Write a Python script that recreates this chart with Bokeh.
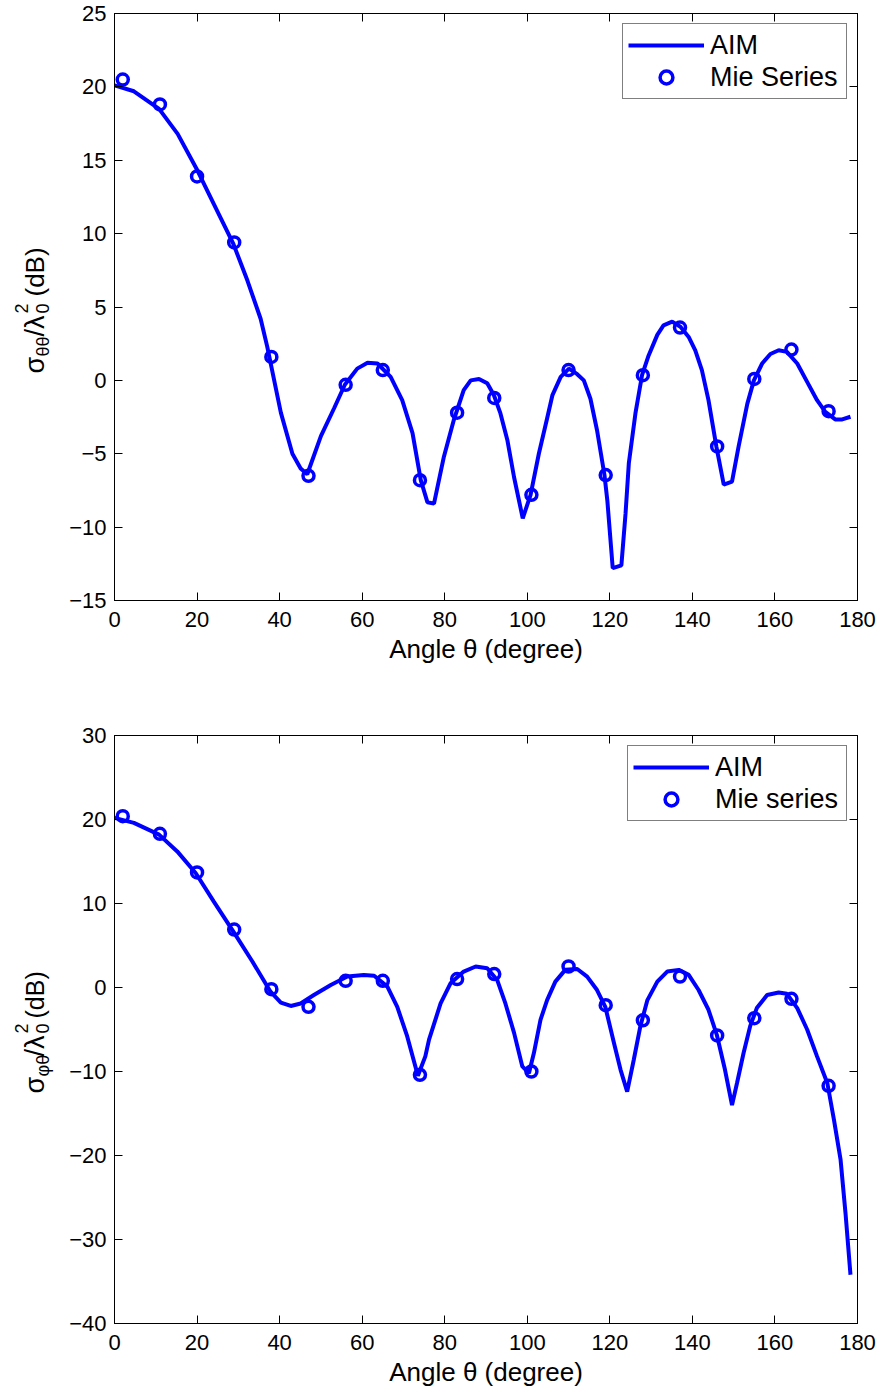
from math import pi
from bokeh.plotting import figure
from bokeh.layouts import column, row
from bokeh.models import (Range1d, FixedTicker, LinearAxis, CustomJSTickFormatter,
                          Legend, LegendItem)
from bokeh.core.properties import value
from bokeh.embed import file_html
from bokeh.resources import INLINE

# ---------------- data ----------------
mie_angle = [2, 11, 20, 29, 38, 47, 56, 65, 74, 83, 92, 101, 110, 119, 128, 137, 146, 155, 164, 173]

# top panel: sigma_theta_theta
aim1_angle = [0, 4.7, 10.8, 15.3, 20.1, 24.1, 28.8, 32.2, 35.4, 37, 40.3, 43.1, 45.1, 46.7,
              50, 53.2, 55.8, 58.8, 61.3, 63.7, 66.9, 69.7, 72.2, 74.2, 75.8, 77.4, 79.8,
              82.2, 84.6, 86.3, 88.3, 90.3, 91.9, 93.5, 95.2, 96.8, 98.9, 100.8, 102.8,
              104.8, 106.1, 108.1, 110.1, 112.1, 113.7, 115.3, 116.9, 118.7, 119.4, 120.7,
              122.8, 123.8, 124.6, 126.2, 127.8, 129.4, 131.5, 133, 135.1, 137.1, 139.1,
              140.7, 142.3, 143.9, 145.8, 147.6, 149.6, 151.2, 153.3, 154.9, 156.9, 158.9,
              160.9, 162.9, 165.4, 167.8, 170.2, 172.2, 174.6, 176.3, 178.3]
aim1_db = [20.1, 19.7, 18.5, 16.8, 14.3, 12.0, 9.3, 6.8, 4.2, 2.3, -2.2, -5.0, -6.0, -6.4,
           -3.8, -1.9, -0.3, 0.8, 1.2, 1.15, 0.24, -1.35, -3.6, -6.8, -8.3, -8.4, -5.2,
           -2.7, -0.67, 0.0, 0.1, -0.2, -1.0, -2.25, -4.1, -6.6, -9.4, -7.8, -5.0,
           -2.6, -1.0, 0.24, 0.8, 0.42, 0.0, -1.25, -3.4, -6.45, -8.2, -12.8,
           -12.6, -9.1, -5.65, -2.25, 0.35, 1.7, 3.1, 3.75, 4.0, 3.65, 2.96,
           2.05, 0.7, -1.35, -4.5, -7.1, -6.9, -4.5, -1.6, 0.0, 1.15, 1.8,
           2.05, 1.94, 1.15, -0.1, -1.35, -2.15, -2.66, -2.66, -2.48]
mie1_db = [20.5, 18.8, 13.9, 9.4, 1.6, -6.5, -0.3, 0.7, -6.8, -2.2, -1.2, -7.8, 0.7, -6.45,
           0.35, 3.6, -4.5, 0.1, 2.1, -2.1]

# bottom panel: sigma_phi_theta
aim2_angle = [0, 4.7, 10.8, 15.2, 19.7, 24.1, 29, 33.4, 37.8, 40.3, 42.7, 45.1, 48.3, 52.4,
              56.4, 60.4, 62.9, 66.1, 68.5, 70.9, 73.5, 75.3, 76.2, 79, 81.4, 84.6, 87.5,
              90.3, 92.7, 94.7, 96.8, 98.8, 100.4, 101.6, 103.2, 104.8, 106.8, 109.2,
              112.1, 114.5, 116.9, 118.9, 121, 122.6, 124.2, 125.8, 127.4, 129.1, 131.5,
              133.9, 136.7, 139.1, 141.5, 143.9, 145.9, 147.9, 149.6, 150.8, 152.4, 154,
              155.6, 158.1, 160.9, 162.9, 165.4, 167.8, 170.2, 172.7, 174.3, 175.9, 177.1,
              178.3]
aim2_db = [20.2, 19.6, 18.2, 16.2, 13.6, 10.2, 6.5, 3.1, -0.5, -1.8, -2.2, -1.9, -0.9, 0.3,
           1.3, 1.5, 1.4, 0.1, -2.3, -5.8, -10.5, -8.2, -6.2, -1.9, 0.5, 1.9, 2.5,
           2.3, 0.9, -1.9, -5.4, -9.4, -10.2, -7.8, -3.85, -1.5, 0.7, 2.1,
           2.2, 1.3, -0.3, -2.3, -6.6, -9.8, -12.4, -8.6, -4.6, -1.5, 0.7,
           1.9, 2.1, 1.5, -0.3, -2.65, -5.6, -9.8, -14.0, -11.4, -7.8, -4.6,
           -2.45, -0.9, -0.6, -0.75, -2.45, -5.0, -8.2, -11.4, -15.75, -20.5, -26.9,
           -34.2]
mie2_db = [20.4, 18.3, 13.7, 6.9, -0.2, -2.3, 0.8, 0.8, -10.4, 1.0, 1.6, -10.0, 2.5, -2.1,
           -3.9, 1.3, -5.7, -3.65, -1.35, -11.7]

x_ticks = [0, 20, 40, 60, 80, 100, 120, 140, 160, 180]
y1_ticks = [-15, -10, -5, 0, 5, 10, 15, 20, 25]
y2_ticks = [-40, -30, -20, -10, 0, 10, 20, 30]

FONT = "Liberation Sans"
BLUE = "#0000ff"
LABEL_W = 60
MINUS = CustomJSTickFormatter(code="return tick < 0 ? '\\u2212' + (-tick) : '' + tick;")
BLANK = CustomJSTickFormatter(code="return '';")


def style_axis(ax, labels=True):
    ax.major_tick_in = 8
    ax.major_tick_out = 0
    ax.minor_tick_in = 0
    ax.minor_tick_out = 0
    ax.axis_line_color = "black"
    ax.axis_line_width = 1
    ax.major_tick_line_color = "black"
    ax.major_label_text_font = FONT
    ax.major_label_text_font_size = "22px"
    ax.major_label_text_color = "black"
    ax.axis_label_text_font = FONT
    ax.axis_label_text_font_size = "26px"
    ax.axis_label_text_font_style = "normal"
    ax.axis_label_text_color = "black"
    if not labels:
        ax.major_label_standoff = 0
        ax.formatter = BLANK


def make_panel(height, yr, yticks, aim_x, aim_y, mie_y, mie_name, top_border, bottom_border,
               legend_label_width):
    p = figure(width=881 - LABEL_W, height=height, output_backend="svg", toolbar_location=None,
               x_range=Range1d(0, 180), y_range=Range1d(*yr),
               min_border_left=114 - LABEL_W, min_border_right=24,
               min_border_top=top_border, min_border_bottom=bottom_border)
    p.outline_line_color = "black"
    p.outline_line_width = 1
    p.xgrid.visible = False
    p.ygrid.visible = False
    p.background_fill_color = "white"
    p.border_fill_color = "white"

    xa = p.xaxis[0]
    ya = p.yaxis[0]
    xa.ticker = FixedTicker(ticks=x_ticks)
    ya.ticker = FixedTicker(ticks=yticks)
    style_axis(xa)
    style_axis(ya)
    ya.formatter = MINUS
    xa.major_label_standoff = 11
    ya.major_label_standoff = 8
    xa.axis_label = "Angle \u03b8 (degree)"
    xa.axis_label_standoff = 4

    ax_top = LinearAxis(ticker=FixedTicker(ticks=x_ticks))
    ax_right = LinearAxis(ticker=FixedTicker(ticks=yticks))
    style_axis(ax_top, labels=False)
    style_axis(ax_right, labels=False)
    p.add_layout(ax_top, "above")
    p.add_layout(ax_right, "right")

    r_line = p.line(aim_x, aim_y, line_color=BLUE, line_width=4)
    r_pts = p.scatter(mie_angle, mie_y, marker="circle", size=11, line_color=BLUE,
                      line_width=3.5, fill_color=None)

    legend = Legend(items=[LegendItem(label="AIM", renderers=[r_line]),
                           LegendItem(label=mie_name, renderers=[r_pts])],
                    location="top_right", margin=10, padding=5, spacing=0,
                    glyph_width=76, glyph_height=32, label_height=32,
                    label_standoff=6, label_width=legend_label_width,
                    label_text_font=FONT, label_text_font_size="27px",
                    label_text_color="black", border_line_color="black",
                    border_line_width=1, background_fill_alpha=1.0)
    p.add_layout(legend, "center")
    return p


def label_panel(height, top_border, bottom_border, base_y, parts):
    # narrow panel holding the composite rotated y-axis title (with sub/superscripts);
    # its frame coincides with the neighbouring plot frame, 1 unit = 1 pixel
    frame_h = height - top_border - bottom_border
    f = figure(width=LABEL_W, height=height, output_backend="svg", toolbar_location=None,
               x_range=Range1d(0, LABEL_W), y_range=Range1d(0, frame_h),
               x_axis_type=None, y_axis_type=None,
               min_border_left=0, min_border_right=0,
               min_border_top=top_border, min_border_bottom=bottom_border)
    f.outline_line_color = None
    f.grid.visible = False
    base = frame_h - (base_y - top_border)
    for txt, size, along, across in parts:
        f.text(x=[34 + across], y=[base + along], text=[txt], angle=pi / 2,
               text_font=value(FONT), text_font_size=value(f"{size}px"),
               text_color="black", text_align="left", text_baseline="alphabetic")
    return f


parts1 = [("\u03c3", 27, 0, 0), ("\u03b8\u03b8", 18, 17, 8), ("/\u03bb", 27, 37, 0),
          ("0", 18, 60, 8), ("2", 18, 60, -13), ("(dB)", 26, 77, 0)]
parts2 = [("\u03c3", 27, 0, 0), ("\u03c6\u03b8", 18, 17, 8), ("/\u03bb", 27, 37, 0),
          ("0", 18, 60, 8), ("2", 18, 60, -13), ("(dB)", 25, 75, 0)]

H1, H2 = 697, 696
p1 = make_panel(H1, (-15, 25), y1_ticks, aim1_angle, aim1_db, mie1_db, "Mie Series", 13, 97, 131)
p2 = make_panel(H2, (-40, 30), y2_ticks, aim2_angle, aim2_db, mie2_db, "Mie series", 38, 70, 126)
l1 = label_panel(H1, 13, 97, 373, parts1)
l2 = label_panel(H2, 38, 70, 1093 - H1, parts2)

layout = column(row(l1, p1, spacing=0), row(l2, p2, spacing=0), spacing=0)
open("out.html", "w").write(file_html(layout, INLINE))
